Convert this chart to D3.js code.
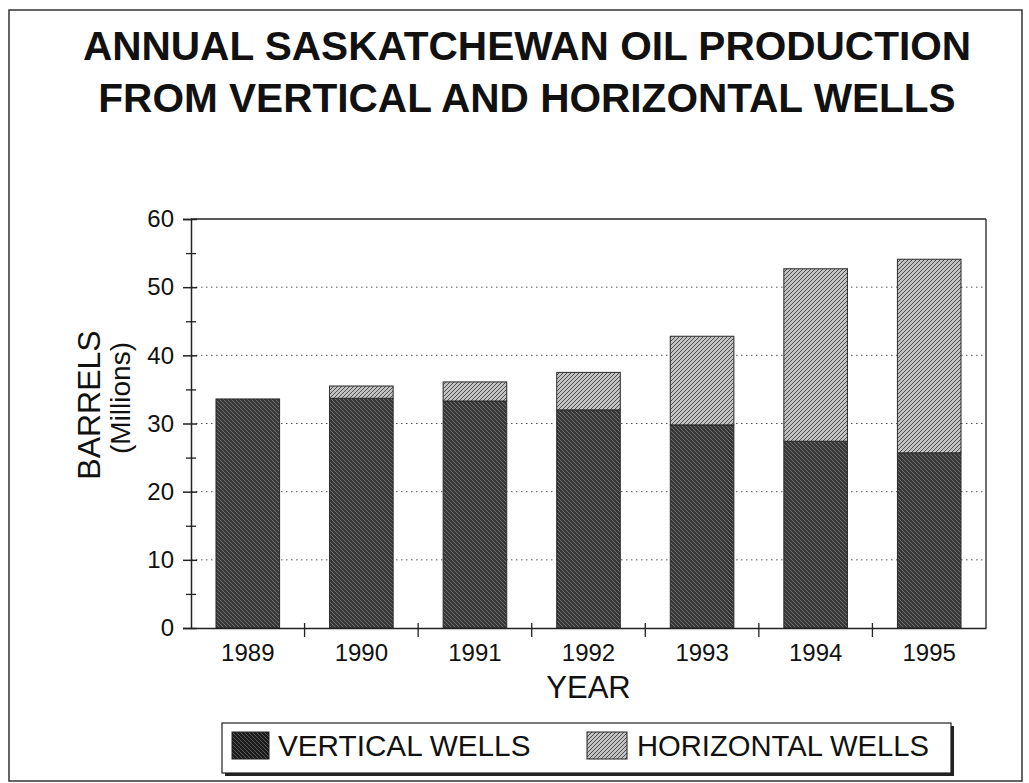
<!DOCTYPE html>
<html>
<head>
<meta charset="utf-8">
<script src="https://cdnjs.cloudflare.com/ajax/libs/d3/7.8.5/d3.min.js"></script>
<style>
  html, body { margin: 0; padding: 0; background: #fff; }
  svg { display: block; }
  text { font-family: "Liberation Sans", Arial, sans-serif; fill: #111; }
</style>
</head>
<body>
<svg id="chart" width="1029" height="783"></svg>
<script>
// ---- data ----
const years = ["1989", "1990", "1991", "1992", "1993", "1994", "1995"];
const verticalWells = [33.6, 33.7, 33.3, 32.0, 29.8, 27.4, 25.7];
const horizontalWells = [0.0, 1.8, 2.8, 5.5, 13.0, 25.3, 28.4];
const yTicks = [0, 10, 20, 30, 40, 50, 60];
const yMinorTicks = [5, 15, 25, 35, 45, 55];
const seriesNames = ["VERTICAL WELLS", "HORIZONTAL WELLS"];
const titleLines = ["ANNUAL SASKATCHEWAN OIL PRODUCTION", "FROM VERTICAL AND HORIZONTAL WELLS"];

const svg = d3.select("#chart");
const plot = { left: 191, right: 986, top: 219, bottom: 628 };

// ---- patterns ----
const defs = svg.append("defs");
function hatch(id, base, line, dir, sw) {
  const p = defs.append("pattern").attr("id", id)
    .attr("patternUnits", "userSpaceOnUse").attr("width", 4).attr("height", 4);
  p.append("rect").attr("width", 4).attr("height", 4).attr("fill", base);
  if (dir === "back") {
    p.append("path").attr("d", "M-1,-1 L5,5 M-1,3 L1,5 M3,-1 L5,1")
      .attr("stroke", line).attr("stroke-width", sw);
  } else {
    p.append("path").attr("d", "M-1,5 L5,-1 M-1,1 L1,-1 M3,5 L5,3")
      .attr("stroke", line).attr("stroke-width", sw);
  }
}
hatch("patV", "#383838", "#6e6e6e", "back", 1);
hatch("patH", "#c2c2c2", "#505050", "fwd", 1);
hatch("patVLeg", "#1c1c1c", "#6a6a6a", "back", 0.8);
const fills = ["url(#patV)", "url(#patH)"];
const legendFills = ["url(#patVLeg)", "url(#patH)"];

// ---- frame ----
svg.append("rect").attr("x", 9).attr("y", 10).attr("width", 1013).attr("height", 771)
  .attr("fill", "none").attr("stroke", "#333").attr("stroke-width", 1.5);

// ---- title ----
svg.selectAll("text.title").data(titleLines).join("text")
  .attr("class", "title")
  .attr("x", 527).attr("y", (d, i) => 60 + i * 52)
  .attr("text-anchor", "middle")
  .attr("font-size", 40.6).attr("font-weight", "bold")
  .text(d => d);

// ---- scales ----
const x = d3.scaleBand().domain(years).range([plot.left, plot.right])
  .paddingInner(0.44).paddingOuter(0.22);
const y = d3.scaleLinear().domain([0, 60]).range([plot.bottom, plot.top]);

// ---- gridlines ----
svg.append("g").selectAll("line").data(yTicks.filter(t => t > 0 && t < 60)).join("line")
  .attr("x1", plot.left).attr("x2", plot.right)
  .attr("y1", d => y(d)).attr("y2", d => y(d))
  .attr("stroke", "#555").attr("stroke-width", 1).attr("stroke-dasharray", "1.5,3.5");

// top and right border of plot
svg.append("line").attr("x1", plot.left).attr("x2", plot.right)
  .attr("y1", y(60)).attr("y2", y(60)).attr("stroke", "#222").attr("stroke-width", 1.3);
svg.append("line").attr("x1", plot.right).attr("x2", plot.right)
  .attr("y1", y(60)).attr("y2", y(0)).attr("stroke", "#222").attr("stroke-width", 1.3);

// ---- bars ----
const rows = years.map((yr, i) => ({ year: yr, v: verticalWells[i], h: horizontalWells[i] }));
const stacked = d3.stack().keys(["v", "h"])(rows);
svg.append("g").selectAll("g").data(stacked).join("g")
  .attr("fill", (d, i) => fills[i])
  .selectAll("rect").data(d => d).join("rect")
  .attr("x", d => x(d.data.year))
  .attr("width", x.bandwidth())
  .attr("y", d => y(d[1]))
  .attr("height", d => Math.max(0, y(d[0]) - y(d[1])))
  .attr("stroke", "#2a2a2a").attr("stroke-width", 1);

// ---- y axis ----
const yAxis = svg.append("g").attr("transform", `translate(${plot.left},0)`)
  .call(d3.axisLeft(y).tickValues(yTicks).tickSize(8).tickPadding(12).tickFormat(d3.format("d")));
yAxis.select(".domain").attr("stroke", "#222").attr("stroke-width", 1.5);
yAxis.selectAll(".tick line").attr("x2", 6).attr("x1", -8).attr("stroke", "#222").attr("stroke-width", 1.5);
yAxis.selectAll(".tick text").attr("font-size", 24).attr("font-family", "Liberation Sans, Arial, sans-serif")
  .attr("fill", "#222").attr("x", -17);
const yMinor = svg.append("g").attr("transform", `translate(${plot.left},0)`)
  .call(d3.axisLeft(y).tickValues(yMinorTicks).tickSize(5).tickFormat(""));
yMinor.select(".domain").remove();
yMinor.selectAll(".tick line").attr("x1", -5).attr("x2", 5).attr("stroke", "#222").attr("stroke-width", 1.3);

// ---- x axis ----
const xAxis = svg.append("g").attr("transform", `translate(0,${plot.bottom})`)
  .call(d3.axisBottom(x).tickSize(0).tickPadding(16));
xAxis.select(".domain").attr("stroke", "#222").attr("stroke-width", 1.5);
xAxis.selectAll(".tick text").attr("font-size", 24).attr("fill", "#222")
  .attr("font-family", "Liberation Sans, Arial, sans-serif");
const boundaries = years.slice(0, -1).map(yr => x(yr) + x.bandwidth() + (x.step() - x.bandwidth()) / 2);
svg.append("g").selectAll("line").data(boundaries).join("line")
  .attr("x1", d => d).attr("x2", d => d)
  .attr("y1", plot.bottom - 5).attr("y2", plot.bottom + 9)
  .attr("stroke", "#222").attr("stroke-width", 1.3);

// ---- axis titles ----
svg.append("text").attr("x", (plot.left + plot.right) / 2).attr("y", 698)
  .attr("text-anchor", "middle").attr("font-size", 31).attr("fill", "#111").text("YEAR");
svg.append("text").attr("transform", "translate(100,405) rotate(-90)")
  .attr("text-anchor", "middle").attr("font-size", 32).attr("fill", "#111").text("BARRELS");
svg.append("text").attr("transform", "translate(130,398) rotate(-90)")
  .attr("text-anchor", "middle").attr("font-size", 28).attr("fill", "#111").text("(Millions)");

// ---- legend ----
const lg = svg.append("g");
lg.append("rect").attr("x", 225).attr("y", 726).attr("width", 729).attr("height", 50).attr("fill", "#222");
lg.append("rect").attr("x", 222).attr("y", 723).attr("width", 729).attr("height", 50)
  .attr("fill", "#fff").attr("stroke", "#222").attr("stroke-width", 1.2);
const legendX = [232, 587];
const legendTextX = [278, 637];
const li = lg.selectAll("g.item").data(seriesNames).join("g").attr("class", "item");
li.append("rect").attr("x", (d, i) => legendX[i]).attr("y", 732)
  .attr("width", (d, i) => i === 0 ? 37 : 40).attr("height", 27)
  .attr("fill", (d, i) => legendFills[i]).attr("stroke", "#222").attr("stroke-width", 1);
li.append("text").attr("x", (d, i) => legendTextX[i]).attr("y", 756)
  .attr("font-size", (d, i) => i === 0 ? 29.7 : 29.2).attr("fill", "#111").text(d => d);
</script>
</body>
</html>
